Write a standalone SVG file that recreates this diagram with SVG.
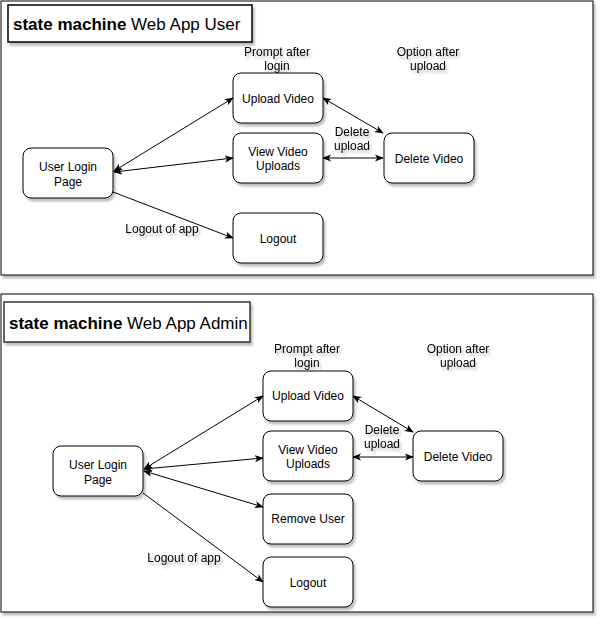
<svg xmlns="http://www.w3.org/2000/svg" width="604" height="624" viewBox="0 0 604 624">
<style>
.panel{fill:#fff;stroke:#000;stroke-width:1;filter:url(#sh)}
.title{fill:#fff;stroke:#000;stroke-width:1.5;filter:url(#sh)}
.node{fill:#fff;stroke:#000;stroke-width:1;filter:url(#sh)}
text{font-family:"Liberation Sans",Arial,sans-serif;font-size:12px;fill:#000;text-anchor:middle}
.tt{font-size:17px;text-anchor:start}
.edge{fill:none;stroke:#000;stroke-width:1}
.lbl{filter:url(#sh)}
</style>
<defs>
<filter id="sh" x="-10%" y="-10%" width="130%" height="140%">
<feDropShadow dx="2" dy="3" stdDeviation="1.2" flood-color="#000" flood-opacity="0.25"/>
</filter>
<marker id="a" viewBox="0 0 10 8" refX="9" refY="4" markerWidth="9" markerHeight="8" markerUnits="userSpaceOnUse" orient="auto-start-reverse">
<path d="M0,0 L10,4 L0,8 L2.5,4 z" fill="#000"/>
</marker>
</defs>
<rect width="604" height="624" fill="#fff"/>

<g id="panel-user">
<rect class="panel" x="1" y="1" width="592" height="274"/>
<rect class="title" x="8" y="5" width="244" height="37"/>
<text class="tt" x="13" y="30"><tspan font-weight="bold">state machine</tspan> Web App User</text>
</g>

<g id="panel-admin">
<rect class="panel" x="1" y="294" width="592" height="318"/>
<rect class="title" x="4" y="302" width="246" height="40" style="stroke:#333"/>
<text class="tt" x="9" y="329"><tspan font-weight="bold">state machine</tspan> Web App Admin</text>
</g>

<g id="connectors">
<line class="edge" x1="114" y1="171" x2="233" y2="98" marker-start="url(#a)" marker-end="url(#a)"/>
<line class="edge" x1="114" y1="172" x2="233" y2="158" marker-start="url(#a)" marker-end="url(#a)"/>
<line class="edge" x1="323" y1="98" x2="383" y2="133" marker-start="url(#a)" marker-end="url(#a)"/>
<line class="edge" x1="323" y1="158" x2="383" y2="158" marker-start="url(#a)" marker-end="url(#a)"/>
<line class="edge" x1="113" y1="192" x2="233" y2="238" marker-end="url(#a)"/>

<line class="edge" x1="144" y1="469" x2="263" y2="396" marker-start="url(#a)" marker-end="url(#a)"/>
<line class="edge" x1="144" y1="469" x2="263" y2="458" marker-start="url(#a)" marker-end="url(#a)"/>
<line class="edge" x1="144" y1="471" x2="263" y2="507" marker-start="url(#a)" marker-end="url(#a)"/>
<line class="edge" x1="353" y1="396" x2="413" y2="432" marker-start="url(#a)" marker-end="url(#a)"/>
<line class="edge" x1="353" y1="457" x2="413" y2="457" marker-start="url(#a)" marker-end="url(#a)"/>
<line class="edge" x1="143" y1="493" x2="263" y2="582" marker-end="url(#a)"/>
</g>

<g id="labels-user" class="lbl">
<text x="277" y="56">Prompt after</text>
<text x="277" y="70">login</text>
<text x="428" y="56">Option after</text>
<text x="428" y="70">upload</text>
<text x="352" y="136">Delete</text>
<text x="352" y="150">upload</text>
<text x="162" y="233">Logout of app</text>
</g>

<g id="u-login"><rect class="node" x="23" y="148" width="90" height="50" rx="8"/><text x="68" y="171">User Login</text><text x="68" y="186">Page</text></g>
<g id="u-upload"><rect class="node" x="233" y="73" width="90" height="50" rx="8"/><text x="278" y="103">Upload Video</text></g>
<g id="u-view"><rect class="node" x="233" y="133" width="90" height="50" rx="8"/><text x="278" y="156">View Video</text><text x="278" y="170">Uploads</text></g>
<g id="u-delete"><rect class="node" x="384" y="133" width="90" height="50" rx="8"/><text x="429" y="163">Delete Video</text></g>
<g id="u-logout"><rect class="node" x="233" y="213" width="90" height="50" rx="8"/><text x="278" y="243">Logout</text></g>

<g id="labels-admin" class="lbl">
<text x="307" y="353">Prompt after</text>
<text x="307" y="367">login</text>
<text x="458" y="353">Option after</text>
<text x="458" y="367">upload</text>
<text x="382" y="434">Delete</text>
<text x="382" y="448">upload</text>
<text x="184" y="562">Logout of app</text>
</g>

<g id="a-login"><rect class="node" x="53" y="446" width="90" height="50" rx="8"/><text x="98" y="469">User Login</text><text x="98" y="484">Page</text></g>
<g id="a-upload"><rect class="node" x="263" y="371" width="90" height="50" rx="8"/><text x="308" y="400">Upload Video</text></g>
<g id="a-view"><rect class="node" x="263" y="431" width="90" height="50" rx="8"/><text x="308" y="454">View Video</text><text x="308" y="468">Uploads</text></g>
<g id="a-delete"><rect class="node" x="413" y="431" width="90" height="50" rx="8"/><text x="458" y="461">Delete Video</text></g>
<g id="a-remove"><rect class="node" x="263" y="494" width="90" height="50" rx="8"/><text x="308" y="523">Remove User</text></g>
<g id="a-logout"><rect class="node" x="263" y="557" width="90" height="50" rx="8"/><text x="308" y="587">Logout</text></g>
</svg>
